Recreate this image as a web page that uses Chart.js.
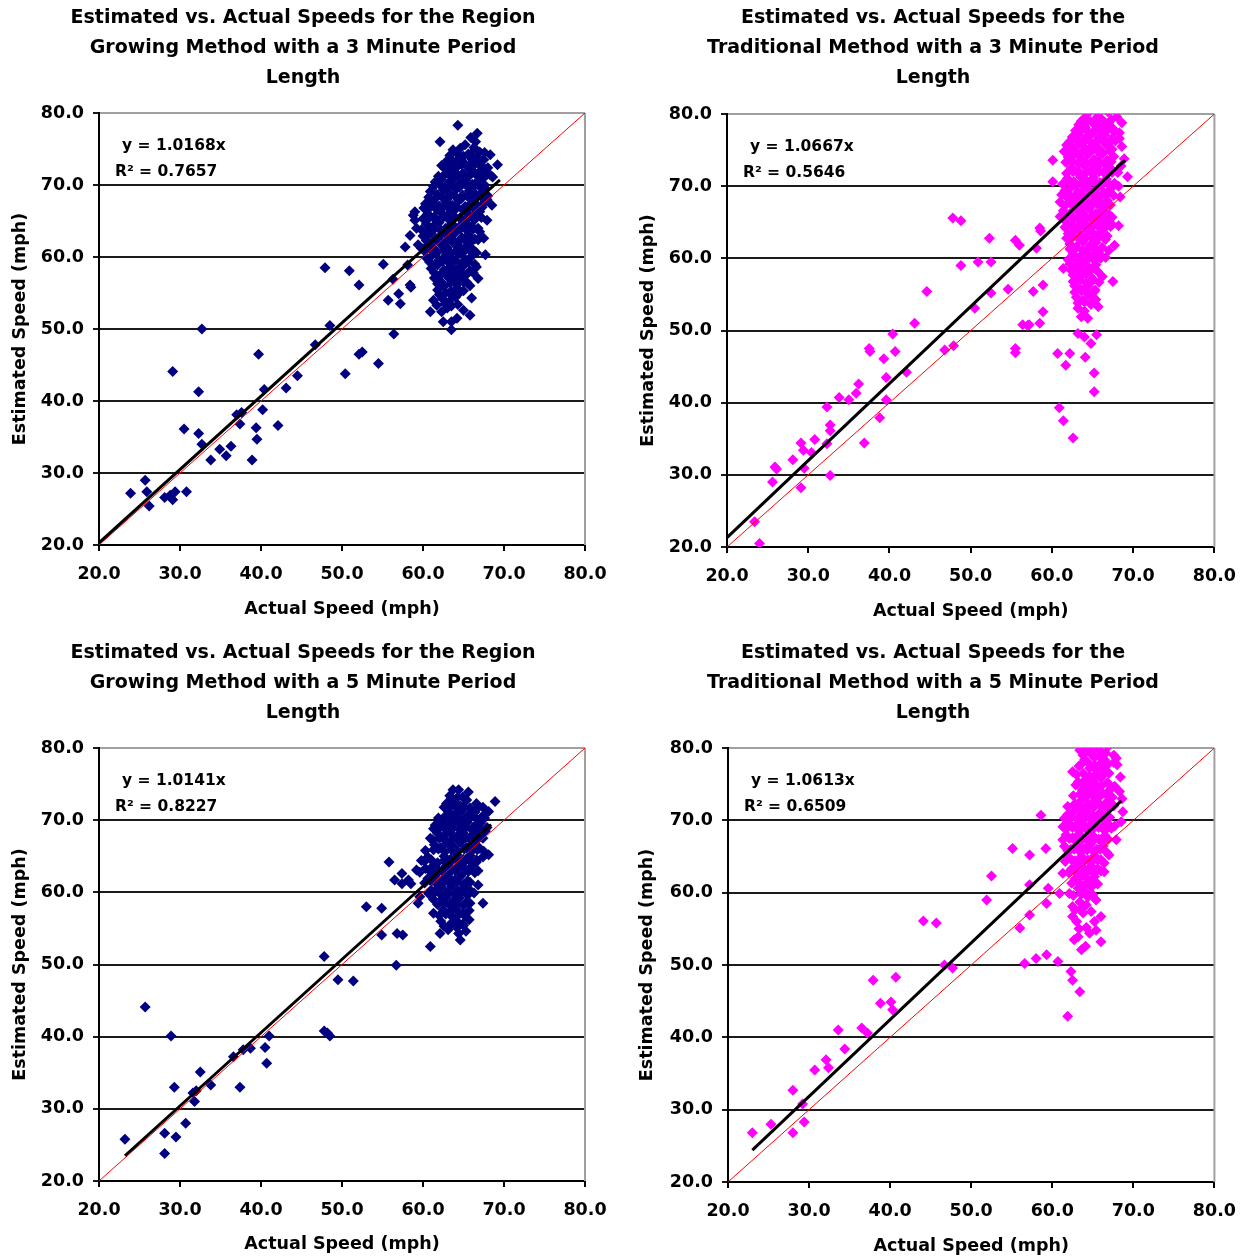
<!DOCTYPE html>
<html>
<head>
<meta charset="utf-8">
<script src="https://cdn.jsdelivr.net/npm/chart.js@4.4.0/dist/chart.umd.min.js"></script>
<style>
  body { margin: 0; background: #fff; }
  #wrap { position: relative; width: 1249px; height: 1258px; }
  canvas { position: absolute; }
</style>
</head>
<body>
<div id="wrap">
  <canvas id="c1" width="624" height="632" style="left:0;top:0"></canvas>
  <canvas id="c2" width="625" height="632" style="left:624px;top:0"></canvas>
  <canvas id="c3" width="624" height="626" style="left:0;top:632px"></canvas>
  <canvas id="c4" width="625" height="626" style="left:624px;top:632px"></canvas>
</div>
<script>
// axis ticks (mph), same on every panel
const tickValues = [20, 30, 40, 50, 60, 70, 80];
const diagonal = [[20, 20], [80, 80]];
const xTitle = 'Actual Speed (mph)';
const yTitle = 'Estimated Speed (mph)';

const rg3Title = ['Estimated vs. Actual Speeds for the Region', 'Growing Method with a 3 Minute Period', 'Length'];
const tm3Title = ['Estimated vs. Actual Speeds for the', 'Traditional Method with a 3 Minute Period', 'Length'];
const rg5Title = ['Estimated vs. Actual Speeds for the Region', 'Growing Method with a 5 Minute Period', 'Length'];
const tm5Title = ['Estimated vs. Actual Speeds for the', 'Traditional Method with a 5 Minute Period', 'Length'];

const rg3Equation = ['y = 1.0168x', 'R² = 0.7657'];
const tm3Equation = ['y = 1.0667x', 'R² = 0.5646'];
const rg5Equation = ['y = 1.0141x', 'R² = 0.8227'];
const tm5Equation = ['y = 1.0613x', 'R² = 0.6509'];

// trendline end points [actual, estimated]
const rg3Trend = [[20, 20.3], [69.5, 70.7]];
const tm3Trend = [[20, 21.3], [69.0, 73.6]];
const rg5Trend = [[23.2, 23.5], [68.4, 69.4]];
const tm5Trend = [[23.0, 24.4], [68.5, 72.7]];

// [actual, estimated] speeds
const rg3Speeds = [
  [32.7,50.0],[29.1,44.1],[32.3,41.3],[39.7,46.5],[40.4,41.6],[40.2,38.8],[30.5,36.1],[32.3,35.5],[32.7,34.0],
  [33.8,31.8],[34.9,33.3],[35.7,32.4],[36.3,33.7],[37.0,38.1],[37.6,38.4],[37.4,36.8],[39.4,36.3],[39.5,34.7],
  [38.9,31.8],[42.1,36.6],[43.1,41.8],[44.5,43.5],[46.7,47.8],[48.5,50.5],[50.4,43.8],[52.1,46.5],[52.5,46.8],
  [54.5,45.2],[56.4,49.3],[55.7,54.0],[57.2,53.5],[25.7,29.0],[23.9,27.2],[25.9,27.4],[26.2,25.4],[28.1,26.6],
  [29.1,26.3],[29.4,27.4],[28.8,26.9],[30.8,27.4],[47.9,58.5],[50.9,58.1],[52.1,56.1],[55.1,59.0],[56.3,56.9],
  [57.0,54.9],[58.1,58.9],[58.5,55.8],[58.8,65.8],[59.4,61.7],[58.4,63.0],
  [64.3,78.3],[66.7,77.2],[65.9,76.6],[62.1,76.0],[66.5,76.0],[65.2,75.6],
  [63.7,74.9],[64.6,75.1],[67.0,74.6],[68.3,74.2],[65.6,74.3],[66.3,75.2],
  [63.0,73.4],[63.8,73.2],[64.5,73.7],[65.2,72.9],[66.0,73.6],[66.8,73.0],[67.5,73.5],[69.2,72.8],
  [62.7,72.3],[63.4,71.8],[64.1,72.4],[64.9,71.6],[65.7,72.2],[66.4,71.7],[67.2,72.1],[67.9,71.5],[68.6,71.1],
  [61.5,70.4],[62.3,70.8],[63.1,70.2],[63.8,70.9],[64.6,70.3],[65.3,70.7],[66.1,70.1],[66.8,70.6],[67.6,70.0],
  [60.9,69.1],[61.7,68.7],[62.5,69.3],[63.3,68.8],[64.1,69.4],[64.9,68.6],[65.7,69.2],[66.5,68.7],[67.3,69.0],[68.0,68.5],
  [60.3,67.4],[61.2,67.6],[62.0,67.1],[62.8,67.7],[63.6,67.2],[64.4,67.8],[65.2,67.0],[66.0,67.5],[66.8,67.1],[67.6,67.6],[68.5,67.2],
  [59.0,66.3],[60.6,66.0],[61.4,65.6],[62.2,66.2],[63.0,65.8],[63.8,66.4],[64.6,65.5],[65.4,66.1],[66.2,65.7],[67.0,66.3],[67.9,65.1],
  [59.0,65.1],[59.2,64.0],[60.4,64.6],[61.2,64.2],[62.0,64.8],[62.8,64.0],[63.6,64.6],[64.4,64.1],[65.2,64.7],[66.0,64.3],[66.8,64.0],
  [60.0,62.9],[60.8,63.2],[61.6,62.6],[62.4,63.3],[63.2,62.8],[64.0,63.4],[64.8,62.7],[65.6,63.1],[66.4,62.5],[67.5,62.6],
  [57.8,61.4],[59.8,61.2],[60.6,61.7],[61.4,61.1],[62.2,61.8],[63.0,61.3],[63.8,61.9],[64.6,61.2],[65.4,61.6],[66.2,61.0],
  [60.4,59.9],[61.2,60.3],[62.0,59.6],[62.8,60.2],[63.6,59.8],[64.4,60.4],[65.2,59.7],[66.0,60.1],[67.7,60.3],
  [61.0,58.4],[61.8,58.9],[62.6,58.2],[63.4,58.7],[64.2,58.3],[65.0,58.8],[65.8,58.1],[66.6,58.6],
  [58.4,56.1],[61.4,57.1],[62.2,56.6],[63.0,57.3],[63.8,56.8],[64.6,57.2],[65.4,56.5],[66.8,57.0],
  [61.8,55.4],[62.6,55.9],[63.4,55.2],[64.2,55.7],[65.0,55.3],[66.0,54.3],
  [61.3,54.0],[62.4,54.2],[63.2,53.8],[64.0,54.4],
  [60.9,52.4],[62.3,52.4],[63.0,52.9],[65.0,52.6],[65.8,51.9],
  [62.5,51.0],[63.5,51.0],[64.2,51.5],[63.5,49.9],
  // dense core
  [63.3,74.1],[64.2,74.4],[65.0,74.0],[65.9,74.3],[66.7,73.9],[67.6,74.5],
  [62.3,72.7],[63.1,72.9],[64.0,72.5],[64.8,72.8],[65.6,72.6],[66.4,72.9],[67.2,72.7],[68.0,72.4],
  [61.9,71.2],[62.7,71.5],[63.5,71.1],[64.3,71.4],[65.1,71.2],[65.9,71.5],[66.7,71.3],[67.5,71.0],[68.3,71.4],
  [61.3,69.8],[62.1,70.0],[62.9,69.6],[63.7,69.9],[64.5,69.7],[65.3,70.0],[66.1,69.6],[66.9,69.9],[67.7,69.5],
  [60.7,68.3],[61.5,68.1],[62.3,68.4],[63.1,68.2],[63.9,68.5],[64.7,68.1],[65.5,68.4],[66.3,68.2],[67.1,68.5],[67.9,68.0],
  [60.1,66.8],[60.9,66.9],[61.7,66.6],[62.5,66.9],[63.3,66.7],[64.1,67.0],[64.9,66.6],[65.7,66.8],[66.5,66.5],[67.3,66.9],
  [60.0,65.3],[60.8,65.5],[61.6,65.1],[62.4,65.4],[63.2,65.2],[64.0,65.5],[64.8,65.1],[65.6,65.4],[66.4,65.2],[67.2,65.5],
  [59.8,63.8],[60.6,63.6],[61.4,63.9],[62.2,63.7],[63.0,64.0],[63.8,63.6],[64.6,63.9],[65.4,63.7],[66.2,63.9],[67.0,63.5],
  [60.4,62.3],[61.2,62.1],[62.0,62.4],[62.8,62.2],[63.6,62.5],[64.4,62.1],[65.2,62.4],[66.0,62.2],[66.8,62.4],
  [60.2,60.8],[61.0,61.0],[61.8,60.7],[62.6,60.9],[63.4,60.6],[64.2,61.0],[65.0,60.7],[65.8,60.9],[66.6,60.6],
  [60.8,59.3],[61.6,59.1],[62.4,59.4],[63.2,59.2],[64.0,59.5],[64.8,59.1],[65.6,59.3],[66.4,59.0],
  [61.4,57.8],[62.2,57.6],[63.0,57.9],[63.8,57.7],[64.6,58.0],[65.4,57.6],[66.2,57.8],
  [61.8,56.3],[62.6,56.1],[63.4,56.4],[64.2,56.2],[65.0,56.5],[65.8,56.0],
  [62.0,54.8],[62.8,55.0],[63.6,54.7],[64.4,54.9],
  [61.7,53.3],[62.7,53.5],[63.5,53.2],[64.3,53.4]
];

const tm3Speeds = [
  [23.4,23.5],[24.0,20.5],[25.6,29.0],[25.9,31.1],[26.1,30.8],[28.1,32.1],[29.1,28.2],[29.1,34.4],[29.4,33.4],
  [29.5,30.9],[30.4,33.1],[30.8,34.9],[32.3,34.3],[32.7,36.9],[32.7,36.1],[32.7,29.9],[32.3,39.4],[33.8,40.7],
  [35.0,40.4],[35.9,41.3],[36.2,42.6],[36.9,34.4],[37.5,47.5],[37.6,47.1],[38.8,37.9],[39.3,46.1],[39.6,43.5],
  [39.6,40.4],[40.4,49.5],[40.7,47.1],[42.1,44.2],[43.1,51.0],[44.6,55.4],[46.8,47.3],[47.9,47.9],[48.8,59.0],
  [50.5,53.1],[50.9,59.5],[52.5,59.5],[52.5,55.2],[54.6,55.7],[55.5,47.5],[55.5,46.9],[56.4,50.8],[57.0,50.7],
  [56.0,61.8],[55.5,62.5],[47.8,65.6],[48.8,65.2],[52.3,62.8],[58.6,63.8],
  [64.4,80.1],[66.9,80.3],[65.6,79.6],[63.9,79.3],[67.3,79.2],
  [63.3,78.5],[64.1,78.2],[65.0,78.8],[65.8,78.1],[66.6,78.6],[67.5,78.0],[68.3,77.4],
  [62.5,76.8],[63.3,77.2],[64.1,76.6],[64.9,77.3],[65.7,76.7],[66.5,77.1],[67.3,76.5],[68.3,76.6],
  [61.8,75.7],[62.6,75.3],[63.4,75.8],[64.2,75.1],[65.0,75.6],[65.8,75.2],[66.6,75.8],[67.4,75.1],
  [60.1,73.6],[62.0,74.0],[62.8,74.5],[63.6,73.8],[64.4,74.4],[65.2,73.7],[66.0,74.3],[66.8,73.6],[67.6,74.1],
  [62.4,72.6],[63.2,72.1],[64.0,72.8],[64.8,72.2],[65.6,72.7],[66.4,72.0],[67.2,72.5],[68.1,71.9],[69.3,71.3],
  [60.1,70.6],[61.9,71.1],[62.7,70.6],[63.5,71.3],[64.3,70.7],[65.1,71.2],[65.9,70.5],[66.7,71.0],[67.7,70.4],
  [61.6,69.4],[62.4,69.9],[63.2,69.2],[64.0,69.8],[64.8,69.3],[65.6,69.7],[66.4,69.1],[67.2,69.6],
  [61.0,67.8],[62.0,68.3],[62.8,67.7],[63.6,68.2],[64.4,67.6],[65.2,68.1],[66.0,67.5],[66.8,68.0],
  [61.4,66.6],[62.2,66.2],[63.0,66.8],[63.8,66.3],[64.6,66.9],[65.4,66.2],[66.2,66.7],[67.0,66.1],
  [58.5,64.2],[61.8,65.0],[62.6,64.6],[63.4,65.2],[64.2,64.7],[65.0,65.3],[65.8,64.6],[66.6,65.1],[67.4,64.7],
  [62.0,63.4],[62.8,63.9],[63.6,63.2],[64.4,63.8],[65.2,63.3],[66.0,63.7],[66.8,63.1],
  [58.1,61.4],[62.2,62.0],[63.0,61.6],[63.8,62.3],[64.6,61.7],[65.4,62.2],[67.7,61.8],
  [62.6,60.6],[63.4,60.2],[64.2,60.8],[65.0,60.3],[65.8,60.7],[66.6,60.1],
  [61.4,58.6],[62.2,59.2],[63.0,58.8],[63.8,59.3],[64.6,58.7],[65.4,59.1],
  [62.6,57.7],[63.4,57.3],[64.2,57.8],[65.0,57.2],[67.5,56.8],[66.2,57.5],
  [57.7,55.4],[58.9,56.3],[62.8,56.2],[63.6,55.7],[64.4,56.1],[65.3,55.6],
  [63.0,54.6],[63.8,54.2],[64.6,54.8],[65.4,54.3],
  [58.9,52.6],[63.2,53.1],[64.0,52.7],[65.7,53.3],
  [58.5,51.0],[57.2,50.8],[63.6,51.9],[64.4,51.7],
  [63.2,49.6],[64.0,49.1],[65.5,49.4],[64.8,48.2],[60.7,46.8],[62.2,46.8],[61.7,45.2],[64.1,46.3],
  [65.2,44.1],[65.2,41.5],[60.9,39.3],[61.4,37.5],[62.6,35.1],
  [68.6,75.5],[68.9,73.8],[68.5,72.8],[68.2,70.0],[68.6,78.8],[68.0,79.6],[68.4,68.5],[68.2,64.5],
  // dense core
  [63.6,79.0],[64.5,79.2],[65.3,78.9],[66.1,79.3],[67.0,78.8],
  [62.9,77.7],[63.7,77.9],[64.5,77.5],[65.3,77.8],[66.1,77.6],[66.9,77.9],[67.7,77.5],
  [62.2,76.2],[63.0,76.4],[63.8,76.0],[64.6,76.3],[65.4,76.1],[66.2,76.4],[67.0,76.0],[67.8,76.3],
  [61.5,74.8],[62.3,75.0],[63.1,74.6],[63.9,74.9],[64.7,74.7],[65.5,75.0],[66.3,74.6],[67.1,74.9],
  [61.7,73.3],[62.5,73.5],[63.3,73.1],[64.1,73.4],[64.9,73.2],[65.7,73.5],[66.5,73.1],[67.3,73.4],
  [61.8,71.8],[62.6,72.0],[63.4,71.6],[64.2,71.9],[65.0,71.7],[65.8,72.0],[66.6,71.6],[67.4,71.9],
  [61.3,70.3],[62.1,70.5],[62.9,70.1],[63.7,70.4],[64.5,70.2],[65.3,70.5],[66.1,70.1],[66.9,70.4],
  [61.2,68.8],[62.0,69.0],[62.8,68.6],[63.6,68.9],[64.4,68.7],[65.2,69.0],[66.0,68.6],[66.8,68.9],[67.6,68.7],
  [61.6,67.3],[62.4,67.5],[63.2,67.1],[64.0,67.4],[64.8,67.2],[65.6,67.5],[66.4,67.1],[67.2,67.4],
  [61.0,65.8],[61.8,66.0],[62.6,65.6],[63.4,65.9],[64.2,65.7],[65.0,66.0],[65.8,65.6],[66.6,65.9],[67.4,65.7],
  [61.6,64.3],[62.4,64.5],[63.2,64.1],[64.0,64.4],[64.8,64.2],[65.6,64.5],[66.4,64.1],[67.2,64.4],
  [61.8,62.8],[62.6,63.0],[63.4,62.6],[64.2,62.9],[65.0,62.7],[65.8,63.0],[66.6,62.6],
  [62.2,61.3],[63.0,61.5],[63.8,61.1],[64.6,61.4],[65.4,61.2],[66.2,61.5],[67.0,61.1],
  [62.0,59.8],[62.8,60.0],[63.6,59.6],[64.4,59.9],[65.2,59.7],[66.0,60.0],
  [62.4,58.3],[63.2,58.5],[64.0,58.1],[64.8,58.4],[65.6,58.2],
  [62.6,56.8],[63.4,57.0],[64.2,56.6],[65.0,56.9],[65.8,56.7],
  [62.8,55.3],[63.6,55.5],[64.4,55.1],[65.2,55.4],
  [63.2,53.8],[64.0,54.0],[64.8,53.6]
];

const rg5Speeds = [
  [23.2,25.8],[28.1,23.8],[28.1,26.6],[29.5,26.1],[25.7,44.1],[28.9,40.1],[29.3,33.0],[30.7,28.0],[31.8,31.0],
  [31.6,32.2],[32.0,32.5],[32.5,35.1],[33.8,33.3],[36.6,37.2],[37.4,33.0],[37.8,38.2],[38.7,38.4],[40.5,38.5],
  [40.7,36.3],[41.0,40.1],[47.8,51.1],[47.8,40.8],[48.5,40.1],[48.2,40.5],[49.5,47.9],[51.4,47.7],
  [53.0,58.0],[54.9,57.8],[55.8,64.2],[56.5,61.7],[54.9,54.1],[56.7,49.9],[57.5,54.1],[58.5,61.2],[59.6,59.4],
  [63.7,74.2],[64.4,74.2],[63.3,73.4],[64.9,73.2],
  [62.9,72.3],[63.8,72.6],[64.6,72.0],[66.6,72.3],[68.9,72.6],[65.4,72.8],
  [62.5,70.0],[63.2,71.2],[64.0,70.8],[64.8,71.3],[65.6,70.7],[66.4,71.1],[67.4,70.6],[68.1,71.2],
  [61.5,69.3],[62.3,69.7],[63.1,69.2],[63.9,69.8],[64.7,69.3],[65.5,69.7],[66.3,69.1],[67.1,69.6],[67.9,69.0],
  [60.9,67.5],[61.8,68.2],[62.6,67.8],[63.4,68.3],[64.2,67.7],[65.0,68.2],[65.8,67.6],[66.6,68.1],[67.4,67.5],
  [61.3,65.9],[61.4,66.6],[62.2,66.2],[63.0,66.8],[63.8,66.3],[64.6,66.9],[65.4,66.2],[66.2,66.7],[67.0,66.1],[68.1,65.2],
  [59.8,64.4],[60.6,64.9],[62.6,65.0],[63.4,64.6],[64.2,65.2],[65.0,64.6],[65.8,65.1],[66.6,64.5],[67.4,64.9],
  [59.2,63.1],[60.3,63.3],[61.2,63.6],[62.0,63.0],[62.8,63.6],[63.6,63.1],[64.4,63.7],[65.2,63.2],[66.0,63.6],[66.8,63.0],
  [57.4,62.6],[58.2,61.7],[57.4,61.2],[60.6,61.9],[61.5,62.3],[62.3,61.6],[63.1,62.2],[63.9,61.7],[64.7,62.3],[65.5,61.6],[66.8,61.0],
  [61.0,60.3],[61.9,60.7],[62.7,60.2],[63.5,60.8],[64.3,60.3],[65.1,60.7],[65.9,60.2],
  [59.4,58.5],[61.3,59.0],[62.1,58.8],[62.9,59.3],[63.7,58.7],[64.5,59.2],[65.3,58.6],[67.4,58.5],
  [61.3,57.1],[62.5,57.6],[63.3,57.2],[64.1,57.7],[64.9,57.1],[65.7,57.5],
  [62.2,56.0],[63.3,55.5],[64.1,56.1],[64.9,55.6],[65.7,56.2],
  [56.8,54.3],[62.1,54.3],[64.4,54.3],[63.1,54.8],[65.3,54.6],
  [60.9,52.5],[64.6,53.4],
  // dense core
  [63.5,73.0],[64.3,73.2],[65.6,73.9],
  [62.6,71.8],[63.4,72.0],[64.2,71.6],[65.0,71.9],[65.8,71.7],[66.6,71.5],[67.4,71.8],
  [61.9,70.3],[62.7,70.5],[63.5,70.1],[64.3,70.4],[65.1,70.2],[65.9,70.5],[66.7,70.1],[67.6,70.3],
  [61.3,68.8],[62.1,69.0],[62.9,68.6],[63.7,68.9],[64.5,68.7],[65.3,69.0],[66.1,68.6],[66.9,68.9],[67.7,68.5],
  [61.2,67.3],[62.0,67.5],[62.8,67.1],[63.6,67.4],[64.4,67.2],[65.2,67.5],[66.0,67.1],[66.8,67.4],
  [60.3,65.8],[61.9,66.0],[62.7,65.6],[63.5,65.9],[64.3,65.7],[65.1,66.0],[65.9,65.6],[66.7,65.9],[67.5,65.7],
  [60.2,64.3],[61.0,64.5],[61.8,64.1],[62.6,64.4],[63.4,64.2],[64.2,64.5],[65.0,64.1],[65.8,64.4],[66.6,64.2],
  [59.6,62.8],[60.8,63.0],[61.6,62.6],[62.4,62.9],[63.2,62.7],[64.0,63.0],[64.8,62.6],[65.6,62.9],[66.4,62.7],
  [60.2,61.3],[61.0,61.5],[61.8,61.1],[62.6,61.4],[63.4,61.2],[64.2,61.5],[65.0,61.1],[65.8,61.4],
  [60.7,59.8],[61.5,60.0],[62.3,59.6],[63.1,59.9],[63.9,59.7],[64.7,60.0],[65.5,59.6],[66.3,59.9],
  [61.8,58.3],[62.6,58.5],[63.4,58.1],[64.2,58.4],[65.0,58.2],[65.8,58.5],
  [62.0,56.8],[62.8,57.0],[63.6,56.6],[64.4,56.9],[65.2,56.7],
  [62.6,55.3],[63.4,55.5],[64.2,55.1],[65.0,55.4]
];

const tm5Speeds = [
  [23.0,26.8],[25.3,28.0],[28.0,26.8],[28.0,32.7],[29.2,30.8],[29.4,28.3],[30.7,35.5],[32.1,36.9],[32.4,35.8],
  [33.6,41.0],[34.4,38.4],[36.5,41.3],[37.2,40.6],[37.9,47.9],[38.8,44.7],[40.1,44.9],[40.3,43.8],[40.7,48.3],
  [44.1,56.1],[45.7,55.8],[46.7,50.0],[47.7,49.6],[51.9,59.0],[52.5,62.3],
  [63.4,79.7],[66.9,80.2],[64.3,79.9],[65.4,80.0],[66.1,79.4],
  [64.0,78.4],[65.2,78.7],[66.5,78.3],[67.9,78.6],
  [62.5,76.7],[64.6,77.2],[65.5,76.9],[66.4,77.3],[68.0,77.7],[63.3,77.5],
  [63.2,75.3],[64.2,75.8],[65.1,75.4],[66.0,75.9],[66.8,75.2],
  [63.7,74.2],[64.5,73.8],[65.4,74.3],[66.2,73.7],[67.0,74.1],
  [62.8,72.3],[63.6,72.8],[64.4,72.2],[65.2,72.7],[66.0,72.1],[66.8,72.6],[67.6,72.0],
  [61.9,70.8],[62.7,71.3],[63.5,70.7],[64.3,71.2],[65.1,70.6],[65.9,71.1],[66.7,70.5],[68.7,71.2],[58.6,70.7],
  [61.3,69.1],[62.1,69.6],[62.9,69.2],[63.7,69.7],[64.5,69.1],[65.3,69.6],[66.1,69.0],[66.9,69.5],[67.7,69.2],
  [61.7,68.0],[62.5,67.6],[63.3,68.1],[64.1,67.5],[64.9,68.0],[65.7,67.4],[66.5,67.9],[67.9,67.3],
  [61.5,66.4],[62.3,66.0],[63.1,66.6],[63.9,66.1],[64.7,66.7],[65.5,66.0],[66.3,66.5],[59.2,66.1],[55.1,66.1],[57.2,65.2],
  [62.0,64.9],[62.8,64.4],[63.6,65.0],[64.4,64.5],[65.2,65.1],[66.0,64.6],[67.0,65.2],
  [61.3,62.7],[62.4,63.3],[63.2,63.8],[64.0,63.2],[64.8,63.7],[65.6,63.3],[66.4,62.9],
  [62.8,61.9],[63.6,62.3],[64.4,61.8],[65.2,62.2],[57.2,61.1],[59.5,60.6],
  [60.9,59.9],[62.1,59.9],[63.2,60.6],[64.0,60.2],[64.8,60.8],[59.3,58.5],
  [62.5,58.1],[63.4,58.7],[64.2,58.3],[65.4,59.0],
  [57.2,56.9],[56.0,55.1],[62.5,56.7],[63.0,56.0],[63.8,57.2],[66.0,56.7],[65.2,56.0],
  [64.6,54.4],[66.0,53.2],[62.7,53.5],[63.2,53.9],[63.6,52.1],[64.1,52.6],
  [56.6,50.2],[58.0,50.9],[59.3,51.4],[60.7,50.5],[62.3,49.1],[62.5,47.9],[63.4,46.3],[61.9,42.9],
  [68.4,76.0],[68.3,74.0],[68.5,69.8],[68.6,73.0],
  // dense core
  [63.8,79.0],[64.8,79.2],[65.8,78.9],[66.6,79.3],[67.6,79.0],
  [63.6,77.8],[64.4,78.0],[65.2,77.6],[66.0,77.9],[66.8,77.7],[67.6,78.0],
  [63.0,76.3],[63.8,76.5],[64.6,76.1],[65.4,76.4],[66.2,76.2],[67.0,76.5],
  [62.9,74.9],[63.7,75.1],[64.5,74.7],[65.3,75.0],[66.1,74.8],[66.9,75.1],[67.7,74.7],
  [62.6,73.4],[63.4,73.6],[64.2,73.2],[65.0,73.5],[65.8,73.3],[66.6,73.6],[67.4,73.2],
  [61.9,71.9],[62.7,72.1],[63.5,71.7],[64.3,72.0],[65.1,71.8],[65.9,72.1],[66.7,71.7],[67.5,72.0],
  [61.5,70.3],[62.3,70.5],[63.1,70.1],[63.9,70.4],[64.7,70.2],[65.5,70.5],[66.3,70.1],[67.1,70.4],
  [61.7,68.8],[62.5,69.0],[63.3,68.6],[64.1,68.9],[64.9,68.7],[65.7,69.0],[66.5,68.6],[67.3,68.9],
  [61.3,67.3],[62.1,67.5],[62.9,67.1],[63.7,67.4],[64.5,67.2],[65.3,67.5],[66.1,67.1],[66.9,67.4],
  [61.9,65.8],[62.7,66.0],[63.5,65.6],[64.3,65.9],[65.1,65.7],[65.9,66.0],[66.7,65.6],
  [61.6,64.3],[62.4,64.5],[63.2,64.1],[64.0,64.4],[64.8,64.2],[65.6,64.5],[66.4,64.1],
  [62.0,62.8],[62.8,63.0],[63.6,62.6],[64.4,62.9],[65.2,62.7],[66.0,63.0],
  [62.4,61.3],[63.2,61.5],[64.0,61.1],[64.8,61.4],[65.6,61.2],
  [62.6,59.6],[63.6,59.8],[64.4,59.4],[65.0,59.7],
  [62.8,57.6],[63.6,57.8],[64.8,57.4],
  [63.3,55.0],[64.2,55.2],[65.4,54.8]
];

Chart.defaults.font.family = "'DejaVu Sans', sans-serif";
Chart.defaults.font.weight = 'bold';
Chart.defaults.color = '#000';

const decor = {
  id: 'decor',
  beforeDatasetsDraw(chart, args, o) {
    const a = chart.chartArea, ctx = chart.ctx;
    ctx.save();
    ctx.strokeStyle = '#a0a0a0';
    ctx.lineWidth = 2;
    ctx.beginPath();
    ctx.moveTo(a.right, a.top);
    ctx.lineTo(a.right, a.bottom);
    ctx.stroke();
    ctx.restore();
  },
  afterDraw(chart, args, o) {
    const a = chart.chartArea, ctx = chart.ctx;
    ctx.save();
    ctx.fillStyle = '#000';
    ctx.textAlign = 'center';
    ctx.textBaseline = 'middle';
    ctx.font = "bold 19px 'DejaVu Sans'";
    o.title.forEach((t, i) => ctx.fillText(t, o.titleX, o.titleY + i * 30));
    ctx.textAlign = 'left';
    ctx.font = "bold 15.5px 'DejaVu Sans'";
    ctx.fillText(o.equation[0], a.left + 23, a.top + 33);
    ctx.fillText(o.equation[1], a.left + 16, a.top + 59);
    ctx.restore();
  }
};

function pts(list) {
  return list.map(p => ({ x: p[0], y: p[1] }));
}

function makeChart(id, box, speeds, color, trend, title, equation) {
  const axisFont = { size: 17.5, weight: 'bold' };
  new Chart(document.getElementById(id), {
    type: 'scatter',
    data: {
      datasets: [
        { data: pts(trend), showLine: true, borderColor: '#000', borderWidth: 3, pointRadius: 0, order: 0 },
        { data: pts(diagonal), showLine: true, borderColor: '#ff0000', borderWidth: 1, pointRadius: 0, order: 1 },
        { data: pts(speeds), pointStyle: 'rectRot', pointRadius: 5.5, backgroundColor: color,
          borderColor: color, borderWidth: 0, order: 2 }
      ]
    },
    options: {
      responsive: false,
      animation: false,
      events: [],
      layout: { padding: { top: box.top, right: box.right, left: 0, bottom: 0 } },
      plugins: {
        legend: { display: false },
        tooltip: { enabled: false },
        decor: { title: title, titleX: box.titleX, titleY: box.titleY, equation: equation }
      },
      scales: {
        x: {
          type: 'linear', min: 20, max: 80,
          afterBuildTicks: ax => { ax.ticks = tickValues.map(v => ({ value: v })); },
          afterFit: s => { s.height = box.xh; },
          ticks: { font: axisFont, padding: 13, maxRotation: 0, callback: v => v.toFixed(1) },
          grid: { drawOnChartArea: false, tickLength: 6, tickColor: '#000', lineWidth: 2 },
          border: { color: '#000', width: 2 },
          title: { display: true, text: xTitle, font: axisFont, padding: { top: 0, bottom: box.xtPad } }
        },
        y: {
          type: 'linear', min: 20, max: 80,
          afterBuildTicks: ax => { ax.ticks = tickValues.map(v => ({ value: v })); },
          afterFit: s => { s.width = box.left; },
          ticks: { font: axisFont, padding: 9, callback: v => v.toFixed(1) },
          grid: {
            color: c => (c.tick && c.tick.value === 80) ? '#a0a0a0' : '#1a1a1a',
            lineWidth: 2, tickLength: 6, tickColor: '#1a1a1a'
          },
          border: { color: '#000', width: 2 },
          title: { display: true, text: yTitle, font: axisFont, padding: { top: box.ytPad, bottom: 0 } }
        }
      }
    },
    plugins: [decor]
  });
}

makeChart('c1', { left: 99, right: 39, top: 113, xh: 87, xtPad: 12.5, ytPad: 10, titleX: 303, titleY: 18 },
  rg3Speeds, '#000080', rg3Trend, rg3Title, rg3Equation);
makeChart('c2', { left: 103, right: 34, top: 114, xh: 85, xtPad: 10.5, ytPad: 14, titleX: 309, titleY: 18 },
  tm3Speeds, '#ff00ff', tm3Trend, tm3Title, tm3Equation);
makeChart('c3', { left: 99, right: 39, top: 116, xh: 77, xtPad: 3.5, ytPad: 10, titleX: 303, titleY: 21 },
  rg5Speeds, '#000080', rg5Trend, rg5Title, rg5Equation);
makeChart('c4', { left: 104, right: 34, top: 116, xh: 76, xtPad: 1.5, ytPad: 13, titleX: 309, titleY: 21 },
  tm5Speeds, '#ff00ff', tm5Trend, tm5Title, tm5Equation);
</script>
</body>
</html>
